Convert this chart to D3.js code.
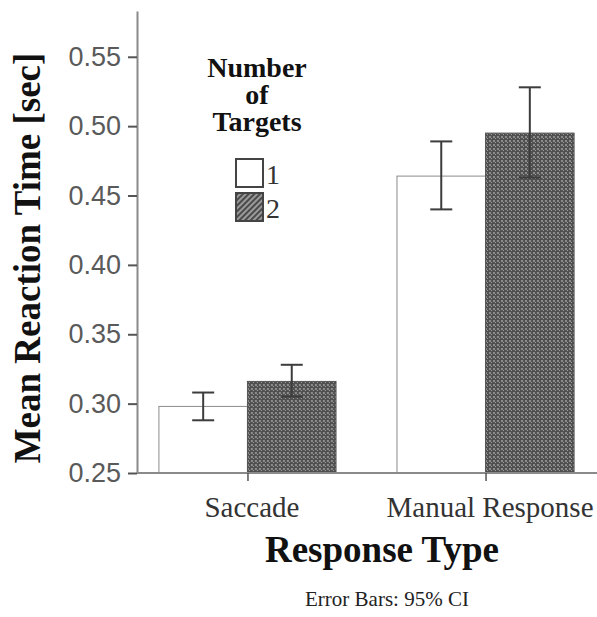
<!DOCTYPE html>
<html>
<head>
<meta charset="utf-8">
<style>
  html, body { margin: 0; padding: 0; background: #fff; }
  svg { display: block; }
</style>
</head>
<body>
<div id="container"></div>
<script src="https://cdn.jsdelivr.net/npm/d3@7"></script>
<script>
// chart data
const categories = ["Saccade", "Manual Response"];
const targetCounts = ["1", "2"];
const meanOne = [0.298, 0.464];
const meanTwo = [0.316, 0.495];
const lowOne = [0.288, 0.440];
const highOne = [0.308, 0.489];
const lowTwo = [0.305, 0.463];
const highTwo = [0.328, 0.528];
const yTicks = [0.25, 0.30, 0.35, 0.40, 0.45, 0.50, 0.55];

const width = 597, height = 617;
const svg = d3.select("#container")
    .append("svg")
    .attr("width", width)
    .attr("height", height);

// patterns for the "2" bars
const defs = svg.append("defs");
const dots = defs.append("pattern")
    .attr("id", "dots")
    .attr("width", 4)
    .attr("height", 4)
    .attr("patternUnits", "userSpaceOnUse");
dots.append("rect").attr("width", 4).attr("height", 4).attr("fill", "#505050");
dots.append("rect").attr("x", 0).attr("y", 0).attr("width", 2).attr("height", 2).attr("fill", "#8c8c8c");
dots.append("rect").attr("x", 2).attr("y", 2).attr("width", 1).attr("height", 1).attr("fill", "#a0a0a0");

const hatch = defs.append("pattern")
    .attr("id", "hatch")
    .attr("width", 4)
    .attr("height", 4)
    .attr("patternUnits", "userSpaceOnUse")
    .attr("patternTransform", "rotate(45)");
hatch.append("rect").attr("width", 4).attr("height", 4).attr("fill", "#9a9a9a");
hatch.append("rect").attr("width", 2).attr("height", 4).attr("fill", "#4a4a4a");

// scales
const y = d3.scaleLinear().domain([0.25, 0.583]).range([473, 11]);
const x0 = d3.scaleBand().domain(categories).range([137, 596])
    .paddingInner(0.256).paddingOuter(0.092);
const x1 = d3.scaleBand().domain(targetCounts).range([0, x0.bandwidth()]);

const rows = categories.map((c, i) => ({
    cat: c,
    bars: [
        { key: "1", mean: meanOne[i], lo: lowOne[i], hi: highOne[i] },
        { key: "2", mean: meanTwo[i], lo: lowTwo[i], hi: highTwo[i] }
    ]
}));

const groups = svg.append("g").selectAll("g")
    .data(rows)
    .join("g")
    .attr("transform", d => `translate(${x0(d.cat)},0)`);

groups.selectAll("rect")
    .data(d => d.bars)
    .join("rect")
    .attr("x", d => x1(d.key))
    .attr("y", d => y(d.mean))
    .attr("width", x1.bandwidth())
    .attr("height", d => y(0.25) - y(d.mean))
    .attr("fill", d => d.key == "1" ? "#fff" : "url(#dots)")
    .attr("stroke", d => d.key == "1" ? "#8a8a8a" : "#555")
    .attr("stroke-width", 1);

// error bars
const capW = 22;
const err = groups.selectAll("g.err")
    .data(d => d.bars)
    .join("g")
    .attr("class", "err")
    .attr("stroke", "#3c3c3c")
    .attr("stroke-width", 2);
err.append("line")
    .attr("x1", d => x1(d.key) + x1.bandwidth() / 2)
    .attr("x2", d => x1(d.key) + x1.bandwidth() / 2)
    .attr("y1", d => y(d.lo))
    .attr("y2", d => y(d.hi));
err.append("line")
    .attr("x1", d => x1(d.key) + x1.bandwidth() / 2 - capW / 2)
    .attr("x2", d => x1(d.key) + x1.bandwidth() / 2 + capW / 2)
    .attr("y1", d => y(d.hi))
    .attr("y2", d => y(d.hi));
err.append("line")
    .attr("x1", d => x1(d.key) + x1.bandwidth() / 2 - capW / 2)
    .attr("x2", d => x1(d.key) + x1.bandwidth() / 2 + capW / 2)
    .attr("y1", d => y(d.lo))
    .attr("y2", d => y(d.lo));

// y axis
const yAxis = svg.append("g")
    .attr("transform", "translate(137,0)")
    .call(d3.axisLeft(y).tickValues(yTicks).tickFormat(d3.format(".2f"))
        .tickSize(9).tickSizeOuter(0).tickPadding(7));
yAxis.select(".domain").attr("stroke", "#8a8a8a").attr("stroke-width", 2);
yAxis.selectAll(".tick line").attr("stroke", "#555").attr("stroke-width", 2);
yAxis.selectAll(".tick text")
    .attr("font-family", "'Liberation Sans', Arial, sans-serif")
    .attr("font-size", 27)
    .attr("fill", "#5a5a5a");

// x axis
const xCenter = d3.scalePoint().domain(categories)
    .range([x0(categories[0]) + x0.bandwidth() / 2, x0(categories[1]) + x0.bandwidth() / 2]);
const xAxis = svg.append("g")
    .attr("transform", "translate(0,473)")
    .call(d3.axisBottom(xCenter).tickSize(8).tickSizeOuter(0).tickPadding(15));
xAxis.select(".domain").attr("d", "M137,0H597").attr("stroke", "#8a8a8a").attr("stroke-width", 2);
xAxis.selectAll(".tick line").attr("stroke", "#555").attr("stroke-width", 1.5);
xAxis.selectAll(".tick text")
    .attr("font-family", "'Liberation Serif', 'Times New Roman', serif")
    .attr("font-size", 29)
    .attr("fill", "#333")
    .attr("dx", 4);

// axis titles
svg.append("text")
    .attr("transform", "translate(40,258) rotate(-90)")
    .attr("text-anchor", "middle")
    .attr("font-family", "'Liberation Serif', 'Times New Roman', serif")
    .attr("font-weight", "bold")
    .attr("font-size", 37)
    .attr("fill", "#111")
    .text("Mean Reaction Time [sec]");

svg.append("text")
    .attr("x", 382)
    .attr("y", 562)
    .attr("text-anchor", "middle")
    .attr("font-family", "'Liberation Serif', 'Times New Roman', serif")
    .attr("font-weight", "bold")
    .attr("font-size", 37)
    .attr("fill", "#111")
    .text("Response Type");

svg.append("text")
    .attr("x", 387)
    .attr("y", 606)
    .attr("text-anchor", "middle")
    .attr("font-family", "'Liberation Serif', 'Times New Roman', serif")
    .attr("font-size", 21)
    .attr("fill", "#222")
    .text("Error Bars: 95% CI");

// legend
const legend = svg.append("g");
const legendTitle = legend.append("text")
    .attr("x", 257)
    .attr("y", 77)
    .attr("text-anchor", "middle")
    .attr("font-family", "'Liberation Serif', 'Times New Roman', serif")
    .attr("font-weight", "bold")
    .attr("font-size", 28)
    .attr("fill", "#111");
["Number", "of", "Targets"].forEach((t, i) => {
    legendTitle.append("tspan")
        .attr("x", 257)
        .attr("dy", i == 0 ? 0 : 27)
        .text(t);
});
targetCounts.forEach((k, i) => {
    legend.append("rect")
        .attr("x", 236)
        .attr("y", 159 + i * 34)
        .attr("width", 27)
        .attr("height", 28)
        .attr("fill", k == "1" ? "#fff" : "url(#hatch)")
        .attr("stroke", "#444")
        .attr("stroke-width", 2);
    legend.append("text")
        .attr("x", 266)
        .attr("y", 184 + i * 34)
        .attr("font-family", "'Liberation Serif', 'Times New Roman', serif")
        .attr("font-size", 28)
        .attr("fill", "#333")
        .text(k);
});
</script>
</body>
</html>
